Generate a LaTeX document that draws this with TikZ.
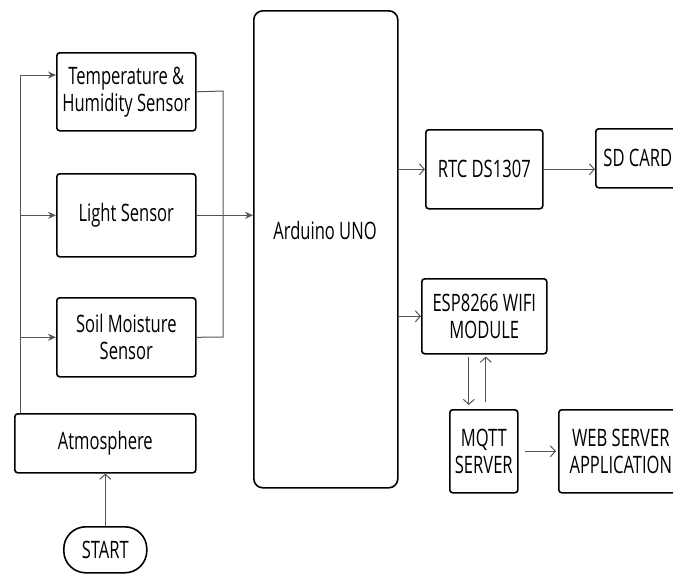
\documentclass[tikz,border=0pt]{standalone}
\usepackage{fontspec}
\setmainfont{Open Sans}[FakeStretch=0.69]
\usetikzlibrary{arrows.meta,calc}
\definecolor{conn}{HTML}{555555}
\begin{document}
\begin{tikzpicture}[x=1pt,y=-1pt,
  box/.style={draw=black, line width=1.6pt, rounded corners=3pt, align=center,
    font=\fontsize{24}{27}\selectfont, anchor=north west, inner sep=0pt},
  txt/.style={font=\fontsize{24}{27}\selectfont, align=center},
  feed/.style={draw=conn, line width=1pt, -{Stealth[length=8pt,width=7pt]}},
  wire/.style={draw=conn, line width=1pt},
  outa/.style={draw=conn, line width=1pt, -{Straight Barb[length=5pt,width=11pt]}}]
\clip (0,0) rectangle (673,574);
\useasboundingbox (0,0) rectangle (673,574);

\node[box, minimum width=139pt, minimum height=78pt] (temp) at (56,52) {Temperature \&\\Humidity Sensor};
\node[box, minimum width=139pt, minimum height=83pt] (light) at (56,173) {Light Sensor};
\node[box, minimum width=139pt, minimum height=79pt] (soil) at (56,297) {Soil Moisture\\Sensor};
\node[box, minimum width=181pt, minimum height=59pt] (atm) at (14,413) {Atmosphere};
\node[box, rounded corners=22pt, minimum width=83pt, minimum height=46pt] (start) at (63,526) {START};
\node[box, rounded corners=9pt, minimum width=144pt, minimum height=477pt] (ard) at (253,10) {};
\node[txt] (ardtext) at (325,230) {Arduino UNO};
\node[box, minimum width=117pt, minimum height=79pt] (rtc) at (425,129) {RTC DS1307};
\node[box, minimum width=84pt, minimum height=59pt] (sd) at (595,128) {SD CARD};
\node[box, minimum width=125pt, minimum height=75pt] (esp) at (421,278) {ESP8266 WIFI\\MODULE};
\node[box, minimum width=68pt, minimum height=83pt] (mqtt) at (449,409) {MQTT\\SERVER};
\node[box, minimum width=124pt, minimum height=83pt] (web) at (558,409) {WEB SERVER\\APPLICATION};

% input trunk
\coordinate (tbot) at (20,413);
\coordinate (ttop) at (20,75);
\draw[feed] (tbot) -- (ttop) -- (temp.west |- ttop);
\draw[feed] (tbot |- light.west) -- (light.west);
\draw[feed] (tbot |- soil.west) -- (soil.west);

% merge to Arduino
\coordinate (mtop) at (223,91);
\coordinate (mbot) at (223,337);
\draw[wire] (temp.east) -- (mtop) -- (mbot) -- (soil.east);
\draw[feed] (light.east) -- (ard.west |- light.east);

% outputs
\draw[outa] (ard.east |- rtc.west) -- (rtc.west);
\draw[outa] (rtc.east) -- (sd.west |- rtc.east);
\draw[outa] (ard.east |- esp.west) -- (esp.west);
\draw[outa] ($(esp.south -| mqtt.north)+(-15,2)$) -- ($(mqtt.north)+(-15,-4)$);
\draw[outa] ($(mqtt.north)+(2,-7)$) -- ($(esp.south -| mqtt.north)+(2,2)$);
\draw[outa] ($(mqtt.east)+(6,0)$) -- ($(web.west)+(-2,0)$);
\draw[outa] (start.north) -- (atm.south);
\end{tikzpicture}
\end{document}
